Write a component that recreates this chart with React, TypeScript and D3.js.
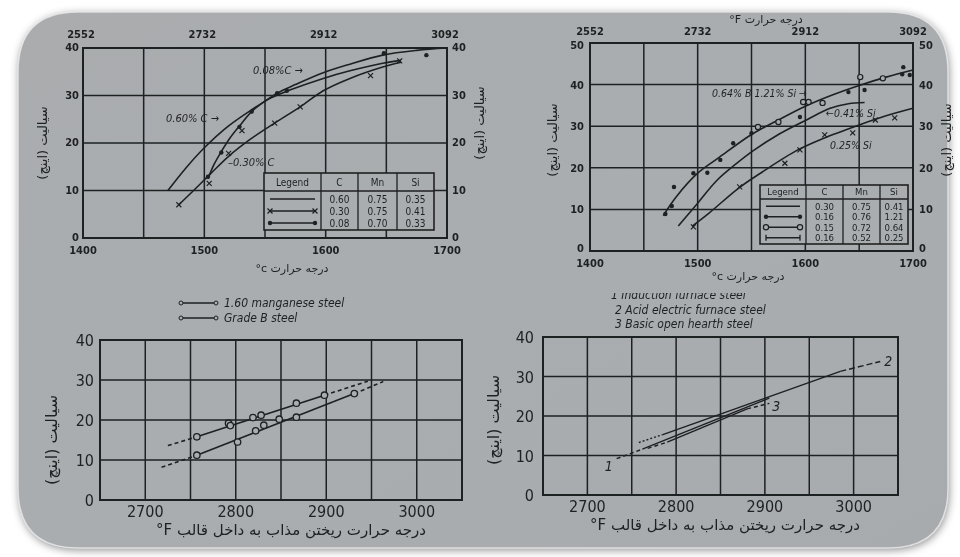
import React from "react";
import * as d3 from "d3";

type Pt = [number, number];

const ink = "#1e2022";
const paper = "#a9adb0";
const fa = "DejaVu Sans, sans-serif";
const num = "DejaVu Sans Condensed, DejaVu Sans, sans-serif";

// top left: fluidity (in) against pouring temperature, three carbon levels
const tlTempC = [1400, 1500, 1600, 1700];
const tlTempF = ["2552", "2732", "2912", "3092"];
const tlFluidity = [0, 10, 20, 30, 40];
const tlCarbon060: Pt[] = [[1470, 10], [1485, 14.8], [1500, 19], [1520, 23.6], [1539, 27], [1555, 29.5], [1571, 31.2], [1598, 33.6], [1620, 35.2], [1647, 36.8], [1662, 37.4]];
const tlCarbon030: Pt[] = [[1479, 7], [1492, 10.2], [1505, 13.5], [1520, 17.2], [1538, 20.8], [1558, 24.2], [1579, 27.6], [1598, 31], [1620, 33.6], [1647, 36], [1662, 37]];
const tlCarbon030Obs: Pt[] = [[1479, 7], [1504, 11.5], [1520, 17.8], [1531, 22.6], [1558, 24.2], [1579, 27.6], [1637, 34.2], [1661, 37.3]];
const tlCarbon008: Pt[] = [[1503, 12.5], [1508, 15.5], [1514, 18.2], [1521, 21], [1529, 23.6], [1539, 26.6], [1550, 28.8], [1560, 30.5], [1575, 32.3], [1598, 34.8], [1620, 36.6], [1647, 38.5], [1675, 39.5], [1700, 40]];
const tlCarbon008Obs: Pt[] = [[1503, 12.9], [1514, 18], [1529, 23.4], [1539, 26.6], [1560, 30.5], [1568, 31], [1648, 38.9], [1683, 38.5]];
const tlLegendRows = [["0.60", "0.75", "0.35"], ["0.30", "0.75", "0.41"], ["0.08", "0.70", "0.33"]];

// top right: silicon levels
const trFluidity = [0, 10, 20, 30, 40, 50];
const trSiTop: Pt[] = [[1468, 8.5], [1480, 13], [1500, 18.7], [1520, 22.5], [1550, 28], [1575, 31.5], [1600, 34.8], [1625, 37.5], [1650, 39.8], [1675, 41.8], [1700, 43.5]];
const trSiTopDots: Pt[] = [[1470, 8.9], [1476, 10.8], [1478, 15.4], [1496, 18.7], [1509, 18.8], [1521, 21.9], [1533, 25.9], [1550, 28.3], [1595, 32.2], [1640, 38.2], [1655, 38.7], [1690, 42.5], [1691, 44.2], [1697, 42.3]];
const trSiTopRings: Pt[] = [[1556, 29.8], [1575, 31], [1598, 35.8], [1603, 35.8], [1616, 35.6], [1651, 41.8], [1672, 41.5]];
const trSi041: Pt[] = [[1482, 6], [1500, 11.5], [1518, 17], [1535, 20.8], [1551, 24], [1575, 28], [1601, 31.5], [1623, 34.3], [1640, 35.4], [1655, 35.7]];
const trSi025: Pt[] = [[1495, 6], [1510, 9], [1539, 15.3], [1560, 19], [1593, 24.3], [1616, 27], [1650, 30.3], [1675, 32.5], [1700, 34.3]];
const trSi025Obs: Pt[] = [[1496, 5.8], [1539, 15.4], [1581, 21.1], [1595, 24.3], [1618, 27.9], [1644, 28.4], [1665, 31.5], [1683, 32]];
const trLegendRows = [["0.30", "0.75", "0.41"], ["0.16", "0.76", "1.21"], ["0.15", "0.72", "0.64"], ["0.16", "0.52", "0.25"]];

// bottom: pouring temperature °F
const castTicks = [2700, 2800, 2900, 3000];
const castFluidity = [0, 10, 20, 30, 40];
const mnSteelObs: Pt[] = [[2757, 15.8], [2792, 19.2], [2794, 18.6], [2819, 20.6], [2828, 21.2], [2867, 24.2], [2898, 26.2]];
const mnSteelFit: Pt[] = [[2757, 15.8], [2898, 26.2]];
const mnSteelExt: Pt[][] = [[[2725, 13.6], [2757, 15.8]], [[2898, 26.2], [2946, 29.7]]];
const gradeBObs: Pt[] = [[2757, 11.2], [2802, 14.5], [2822, 17.3], [2831, 18.7], [2848, 20.2], [2867, 20.7], [2931, 26.6]];
const gradeBFit: Pt[] = [[2757, 11.2], [2931, 26.6]];
const gradeBExt: Pt[][] = [[[2718, 8.2], [2757, 11.2]], [[2931, 26.6], [2963, 29.6]]];

const inductionSolid: Pt[] = [[2762, 11.6], [2905, 24.5]];
const inductionDash: Pt[] = [[2733, 9.2], [2762, 11.6]];
const acidSolid: Pt[] = [[2785, 15.3], [2985, 31.3]];
const acidDash: Pt[][] = [[[2758, 13.3], [2785, 15.3]], [[2985, 31.3], [3030, 33.8]]];
const basicSolid: Pt[] = [[2790, 13.4], [2880, 21.8]];
const basicDash: Pt[][] = [[[2768, 11.8], [2790, 13.4]], [[2880, 21.8], [2905, 23.2]]];

const titleY = "سیالیت (اینچ)";

function Grid({ x, y, xn, yn }: any) {
  const [x0, x1] = x.range();
  const [y0, y1] = y.range();
  return (
    <g stroke={ink} fill="none">
      {x.ticks(xn).map((v: number) => (
        <line key={"v" + v} x1={x(v)} x2={x(v)} y1={y0} y2={y1} strokeWidth={1.5} />
      ))}
      {y.ticks(yn).map((v: number) => (
        <line key={"h" + v} x1={x0} x2={x1} y1={y(v)} y2={y(v)} strokeWidth={1.5} />
      ))}
      <rect x={x0} y={y1} width={x1 - x0} height={y0 - y1} strokeWidth={2} />
    </g>
  );
}

function mark(kind: string, cx: number, cy: number, key: any) {
  if (kind === "x")
    return (
      <g key={key} stroke={ink} strokeWidth={1.2}>
        <line x1={cx - 2.5} x2={cx + 2.5} y1={cy - 2.5} y2={cy + 2.5} />
        <line x1={cx - 2.5} x2={cx + 2.5} y1={cy + 2.5} y2={cy - 2.5} />
      </g>
    );
  if (kind === "bar")
    return <line key={key} x1={cx} x2={cx} y1={cy - 3} y2={cy + 3} stroke={ink} strokeWidth={1.3} />;
  if (kind === "ring")
    return <circle key={key} cx={cx} cy={cy} r={2.6} fill={paper} stroke={ink} strokeWidth={1.2} />;
  return <circle key={key} cx={cx} cy={cy} r={2.2} fill={ink} />;
}

function LegendTable({ cols, top, head, rowH, rows, kinds, fs }: any) {
  const bottom = top + head + rowH * rows.length + 3;
  return (
    <g fontFamily={num} fontSize={fs} fill={ink}>
      <rect x={cols[0]} y={top} width={cols[4] - cols[0]} height={bottom - top} fill={paper} stroke={ink} strokeWidth={1.6} />
      {cols.slice(1, 4).map((c: number) => (
        <line key={c} x1={c} x2={c} y1={top} y2={bottom} stroke={ink} strokeWidth={1.3} />
      ))}
      <line x1={cols[0]} x2={cols[4]} y1={top + head} y2={top + head} stroke={ink} strokeWidth={1.3} />
      {["Legend", "C", "Mn", "Si"].map((t, i) => (
        <text key={t} x={(cols[i] + cols[i + 1]) / 2} y={top + head / 2 + fs * 0.36} textAnchor="middle">{t}</text>
      ))}
      {rows.map((r: string[], j: number) => {
        const cy = top + head + 2 + rowH * (j + 0.5);
        const a = cols[0] + 6, b = cols[1] - 6;
        return (
          <g key={j}>
            <line x1={a} x2={b} y1={cy} y2={cy} stroke={ink} strokeWidth={1.3} />
            {kinds[j] ? [mark(kinds[j], a, cy, "a"), mark(kinds[j], b, cy, "b")] : null}
            {r.map((v, i) => (
              <text key={i} x={(cols[i + 1] + cols[i + 2]) / 2} y={cy + fs * 0.36} textAnchor="middle">{v}</text>
            ))}
          </g>
        );
      })}
    </g>
  );
}

function YTitle({ x, y, size }: any) {
  return (
    <text transform={`translate(${x},${y}) rotate(-90)`} textAnchor="middle" direction="rtl" fontFamily={fa} fontSize={size} fill={ink}>
      {titleY}
    </text>
  );
}

function TopLeft() {
  const x = d3.scaleLinear().domain([1400, 1700]).range([83, 447]);
  const y = d3.scaleLinear().domain([0, 40]).range([238, 48]);
  const curve = d3.line<Pt>().x((d) => x(d[0])).y((d) => y(d[1])).curve(d3.curveCatmullRom.alpha(0.5));
  return (
    <g>
      <Grid x={x} y={y} xn={6} yn={4} />
      <g fill="none" stroke={ink} strokeWidth={1.6}>
        <path d={curve(tlCarbon060) || ""} />
        <path d={curve(tlCarbon030) || ""} />
        <path d={curve(tlCarbon008) || ""} />
      </g>
      {tlCarbon030Obs.map((d, i) => mark("x", x(d[0]), y(d[1]), "x" + i))}
      {tlCarbon008Obs.map((d, i) => mark("dot", x(d[0]), y(d[1]), "d" + i))}
      <g fontFamily={num} fontSize={11} fontWeight={600} fill={ink}>
        {tlFluidity.map((v) => (
          <text key={"l" + v} x={79} y={y(v) + 3} textAnchor="end">{v}</text>
        ))}
        {tlFluidity.map((v) => (
          <text key={"r" + v} x={452} y={y(v) + 3}>{v}</text>
        ))}
        {tlTempC.map((v) => (
          <text key={"b" + v} x={x(v)} y={254} textAnchor="middle">{v}</text>
        ))}
        {tlTempF.map((t, i) => (
          <text key={"t" + t} x={x(tlTempC[i]) - 2} y={38} textAnchor="middle">{t}</text>
        ))}
      </g>
      <g fontFamily={num} fontSize={11} fontStyle="italic" fill={ink}>
        <text x={253} y={74}>0.08%C →</text>
        <text x={166} y={122}>0.60% C →</text>
        <text x={228} y={166}>–0.30% C</text>
      </g>
      <LegendTable cols={[264, 321, 358, 397, 434]} top={173} head={18} rowH={12} rows={tlLegendRows} kinds={[null, "x", "dot"]} fs={10} />
      <text x={292} y={272} textAnchor="middle" fontFamily={fa} fontSize={11} fill={ink}>°c درجه حرارت</text>
      <YTitle x={47} y={143} size={13} />
      <YTitle x={484} y={123} size={13} />
    </g>
  );
}

function TopRight() {
  const x = d3.scaleLinear().domain([1400, 1700]).range([590, 913]);
  const y = d3.scaleLinear().domain([0, 50]).range([251, 43]);
  const curve = d3.line<Pt>().x((d) => x(d[0])).y((d) => y(d[1])).curve(d3.curveCatmullRom.alpha(0.5));
  return (
    <g>
      <Grid x={x} y={y} xn={6} yn={5} />
      <g fill="none" stroke={ink} strokeWidth={1.6}>
        <path d={curve(trSiTop) || ""} />
        <path d={curve(trSi041) || ""} />
        <path d={curve(trSi025) || ""} />
      </g>
      {trSiTopDots.map((d, i) => mark("dot", x(d[0]), y(d[1]), "d" + i))}
      {trSiTopRings.map((d, i) => mark("ring", x(d[0]), y(d[1]), "r" + i))}
      {trSi025Obs.map((d, i) => mark("x", x(d[0]), y(d[1]), "x" + i))}
      <g fontFamily={num} fontSize={11} fontWeight={600} fill={ink}>
        {trFluidity.map((v) => (
          <text key={"l" + v} x={584} y={y(v) + (v === 0 ? 1 : v === 50 ? 6 : 4)} textAnchor="end">{v}</text>
        ))}
        {trFluidity.map((v) => (
          <text key={"r" + v} x={919} y={y(v) + (v === 0 ? 1 : v === 50 ? 6 : 4)}>{v}</text>
        ))}
        {tlTempC.map((v) => (
          <text key={"b" + v} x={x(v)} y={267} textAnchor="middle">{v}</text>
        ))}
        {tlTempF.map((t, i) => (
          <text key={"t" + t} x={x(tlTempC[i])} y={35} textAnchor="middle">{t}</text>
        ))}
      </g>
      <g fontFamily={num} fontSize={10.5} fontStyle="italic" fill={ink}>
        <text x={712} y={97}>0.64% B 1.21% Si →</text>
        <text x={826} y={117}>←0.41% Si</text>
        <text x={830} y={149}>0.25% Si</text>
      </g>
      <LegendTable cols={[760, 806, 843, 880, 908]} top={185} head={14} rowH={10.5} rows={trLegendRows} kinds={[null, "dot", "ring", "bar"]} fs={9.5} />
      <text x={766} y={23} textAnchor="middle" fontFamily={fa} fontSize={11} fill={ink}>°F درجه حرارت</text>
      <text x={748} y={280} textAnchor="middle" fontFamily={fa} fontSize={11} fill={ink}>°c درجه حرارت</text>
      <YTitle x={557} y={140} size={13} />
      <YTitle x={951} y={140} size={13} />
    </g>
  );
}

function CastAxes({ x, y, lx, by, tx, ty, ry }: any) {
  return (
    <g>
      <Grid x={x} y={y} xn={8} yn={4} />
      <g fontFamily={num} fontSize={16} fill={ink}>
        {castFluidity.map((v) => (
          <text key={"l" + v} x={lx} y={y(v) + 6} textAnchor="end">{v}</text>
        ))}
        {castTicks.map((v) => (
          <text key={"b" + v} x={x(v)} y={by} textAnchor="middle">{v}</text>
        ))}
      </g>
      <text x={tx} y={ty} textAnchor="middle" fontFamily={fa} fontSize={15} fill={ink}>°F درجه حرارت ریختن مذاب به داخل قالب</text>
      <YTitle x={ry[0]} y={ry[1]} size={16} />
    </g>
  );
}

function BottomLeft() {
  const x = d3.scaleLinear().domain([2650, 3050]).range([100, 462]);
  const y = d3.scaleLinear().domain([0, 40]).range([500, 340]);
  const seg = d3.line<Pt>().x((d) => x(d[0])).y((d) => y(d[1]));
  return (
    <g>
      <CastAxes x={x} y={y} lx={94} by={517} tx={291} ty={535} ry={[57, 440]} />
      <g fill="none" stroke={ink} strokeWidth={1.6}>
        <path d={seg(mnSteelFit) || ""} />
        <path d={seg(gradeBFit) || ""} />
        {[...mnSteelExt, ...gradeBExt].map((s, i) => (
          <path key={i} d={seg(s) || ""} strokeDasharray="4 3" />
        ))}
      </g>
      {[...mnSteelObs, ...gradeBObs].map((d, i) => (
        <circle key={i} cx={x(d[0])} cy={y(d[1])} r={3.2} fill={paper} stroke={ink} strokeWidth={1.3} />
      ))}
      <g fontFamily={num} fontSize={12} fontStyle="italic" fill={ink}>
        {["1.60 manganese steel", "Grade B steel"].map((t, i) => (
          <g key={t}>
            <line x1={181} x2={216} y1={303 + i * 15} y2={303 + i * 15} stroke={ink} strokeWidth={1.3} />
            <circle cx={181} cy={303 + i * 15} r={2} fill={paper} stroke={ink} />
            <circle cx={216} cy={303 + i * 15} r={2} fill={paper} stroke={ink} />
            <text x={224} y={307 + i * 15}>{t}</text>
          </g>
        ))}
      </g>
    </g>
  );
}

function BottomRight() {
  const x = d3.scaleLinear().domain([2650, 3050]).range([543, 898]);
  const y = d3.scaleLinear().domain([0, 40]).range([495, 337]);
  const seg = d3.line<Pt>().x((d) => x(d[0])).y((d) => y(d[1]));
  return (
    <g>
      <defs>
        <clipPath id="brLegendClip">
          <rect x={540} y={293} width={360} height={40} />
        </clipPath>
      </defs>
      <CastAxes x={x} y={y} lx={534} by={512} tx={725} ty={530} ry={[499, 420]} />
      <g fill="none" stroke={ink} strokeWidth={1.4}>
        <path d={seg(inductionSolid) || ""} />
        <path d={seg(acidSolid) || ""} />
        <path d={seg(basicSolid) || ""} />
        <path d={seg(inductionDash) || ""} strokeDasharray="4 3" />
        {acidDash.map((s, i) => (
          <path key={"a" + i} d={seg(s) || ""} strokeDasharray={i === 0 ? "2 2" : "6 3"} />
        ))}
        {basicDash.map((s, i) => (
          <path key={"b" + i} d={seg(s) || ""} strokeDasharray="4 3" />
        ))}
      </g>
      <g fontFamily={num} fontSize={14} fontStyle="italic" fill={ink}>
        <text x={x(inductionDash[0][0]) - 12} y={y(inductionDash[0][1]) + 12}>1</text>
        <text x={x(acidDash[1][1][0]) + 4} y={y(acidDash[1][1][1]) + 5}>2</text>
        <text x={x(basicDash[1][1][0]) + 3} y={y(basicDash[1][1][1]) + 8}>3</text>
      </g>
      <g fontFamily={num} fontSize={12} fontStyle="italic" fill={ink}>
        <text x={611} y={299} clipPath="url(#brLegendClip)">1 Induction furnace steel</text>
        <text x={615} y={314}>2 Acid electric furnace steel</text>
        <text x={615} y={328}>3 Basic open hearth steel</text>
      </g>
    </g>
  );
}

export default function App() {
  const card = "M78,12 H888 Q948,12 948,72 V488 Q948,548 888,548 H78 Q18,548 18,488 V72 Q18,12 78,12 Z";
  return (
    <svg width={960} height={557} style={{ position: "absolute", left: 0, top: 0, background: "#ffffff" }}>
      <defs>
        <filter id="shade" x="-5%" y="-5%" width="110%" height="110%">
          <feGaussianBlur in="SourceAlpha" stdDeviation={4} />
          <feOffset dx={1} dy={2} result="b" />
          <feFlood floodColor="#000" floodOpacity={0.45} />
          <feComposite in2="b" operator="in" />
          <feMerge>
            <feMergeNode />
            <feMergeNode in="SourceGraphic" />
          </feMerge>
        </filter>
        <filter id="scan">
          <feGaussianBlur stdDeviation={0.35} />
        </filter>
        <linearGradient id="paperGrad" x1="0" y1="0" x2="1" y2="1">
          <stop offset="0" stopColor="#aaacae" />
          <stop offset="0.5" stopColor={paper} />
          <stop offset="1" stopColor="#a7abae" />
        </linearGradient>
      </defs>
      <path d={card} fill="url(#paperGrad)" filter="url(#shade)" />
      <path d={card} fill="none" stroke="#e8eaeb" strokeWidth={1.5} strokeOpacity={0.8} />
      <g filter="url(#scan)">
        <TopLeft />
        <TopRight />
        <BottomLeft />
        <BottomRight />
      </g>
    </svg>
  );
}
